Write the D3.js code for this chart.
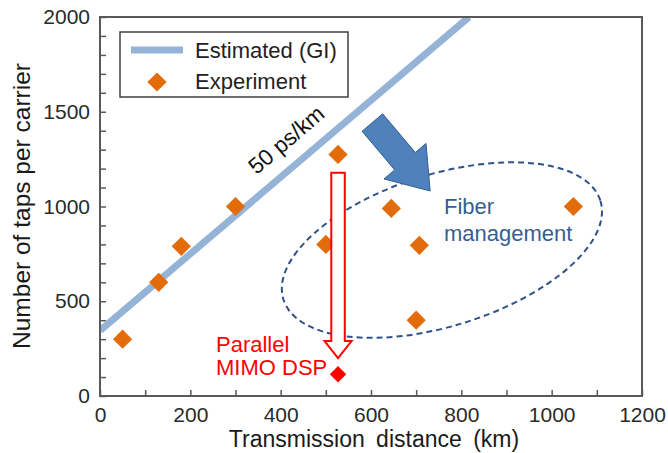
<!DOCTYPE html>
<html>
<head>
<meta charset="utf-8">
<script src="https://cdn.jsdelivr.net/npm/d3@7"></script>
<style>
  html, body { margin: 0; padding: 0; background: #fff; }
  svg { display: block; font-family: "Liberation Sans", Arial, sans-serif; }
</style>
</head>
<body>
<svg id="chart" width="668" height="453"></svg>
<script>
// Measured tap counts (distance km, taps per carrier)
const experimentDistance = [50, 130, 180, 300, 527, 500, 645, 707, 700, 1048];
const experimentTaps     = [300, 600, 790, 1000, 1275, 800, 990, 795, 400, 1000];

// Estimated tap count for GI fibre (50 ps/km), straight line end points
const estimatedDistance = [0, 817];
const estimatedTaps     = [345, 2000];

// Parallel MIMO DSP result
const parallelDistance = [527];
const parallelTaps     = [115];

// Axis ticks
const xTicks = d3.range(0, 1201, 100);
const xLabels = [0, 200, 400, 600, 800, 1000, 1200];
const yTicks = d3.range(0, 2001, 100);
const yLabels = [0, 500, 1000, 1500, 2000];

const svg = d3.select("#chart");
const x = d3.scaleLinear().domain([0, 1200]).range([100, 642]);
const y = d3.scaleLinear().domain([0, 2000]).range([396, 17]);

const frameColor = "#595959";
const orange = "#E36C0A";

svg.append("clipPath").attr("id", "plot-clip")
  .append("rect").attr("x", x(0)).attr("y", y(2000))
  .attr("width", x(1200) - x(0)).attr("height", y(0) - y(2000));

// Axes with inward ticks
const xAxis = d3.axisBottom(x).tickValues(xTicks).tickSizeInner(-6).tickSizeOuter(0).tickPadding(11)
  .tickFormat(d => xLabels.includes(d) ? d : "");
const yAxis = d3.axisLeft(y).tickValues(yTicks).tickSizeInner(-6).tickSizeOuter(0).tickPadding(10)
  .tickFormat(d => yLabels.includes(d) ? d : "");

const gx = svg.append("g").attr("transform", `translate(0,${y(0)})`).call(xAxis);
const gy = svg.append("g").attr("transform", `translate(${x(0)},0)`).call(yAxis);
[gx, gy].forEach(g => {
  g.select(".domain").remove();
  g.selectAll(".tick line").attr("stroke", frameColor).attr("stroke-width", 1.5);
  g.selectAll(".tick text").attr("fill", "#2a2a2a").style("font-size", "21px")
    .style("font-family", "'Liberation Sans', Arial, sans-serif");
});

// Estimated line
const plot = svg.append("g").attr("clip-path", "url(#plot-clip)");
const estPts = estimatedDistance.map((d, i) => [x(d), y(estimatedTaps[i])]);
plot.append("path")
  .attr("d", d3.line()(estPts))
  .attr("stroke", "#95B3D7").attr("stroke-width", 7).attr("fill", "none");

// Slope label along the line
const ang = Math.atan2(estPts[1][1] - estPts[0][1], estPts[1][0] - estPts[0][0]);
const slope = (estimatedTaps[1] - estimatedTaps[0]) / (estimatedDistance[1] - estimatedDistance[0]);
const labelDist = 448;
const lp = [x(labelDist), y(estimatedTaps[0] + slope * labelDist)];
const off = 17;
const lx = lp[0] + Math.sin(ang) * off, ly = lp[1] - Math.cos(ang) * off;
svg.append("text")
  .attr("transform", `translate(${lx},${ly}) rotate(${ang * 180 / Math.PI})`)
  .attr("text-anchor", "middle").style("font-size", "22.5px").attr("fill", "#111")
  .text("50 ps/km");

// Fibre-management group outline
const ellipseCenter = [757, 770];
svg.append("ellipse")
  .attr("transform", `translate(${x(ellipseCenter[0])},${y(ellipseCenter[1])}) rotate(-17.3)`)
  .attr("rx", 166).attr("ry", 76)
  .attr("fill", "none").attr("stroke", "#2F5288").attr("stroke-width", 2)
  .attr("stroke-dasharray", "6,4");

// Experiment diamonds
const diamond = d3.symbol().type(d3.symbolSquare).size(185);
svg.append("g").selectAll("path")
  .data(experimentDistance.map((d, i) => [d, experimentTaps[i]]))
  .join("path")
  .attr("d", diamond)
  .attr("transform", d => `translate(${x(d[0])},${y(d[1])}) rotate(45)`)
  .attr("fill", orange);

// Block arrow helper: tail/tip in pixels
function blockArrow(t, h, shaftW, headW, headL) {
  const dx = h[0] - t[0], dy = h[1] - t[1];
  const L = Math.hypot(dx, dy);
  const ux = dx / L, uy = dy / L, nx = -uy, ny = ux;
  const b = [h[0] - ux * headL, h[1] - uy * headL];
  const p = (c, s) => [c[0] + nx * s, c[1] + ny * s];
  return [p(t, shaftW / 2), p(b, shaftW / 2), p(b, headW / 2), h,
          p(b, -headW / 2), p(b, -shaftW / 2), p(t, -shaftW / 2)];
}

// Blue arrow pointing into the fibre-management group
const blueTail = [603, 1443], blueTip = [731, 1082];
svg.append("polygon")
  .attr("points", blockArrow([x(blueTail[0]), y(blueTail[1])], [x(blueTip[0]), y(blueTip[1])], 27, 55, 39).join(" "))
  .attr("fill", "#4F81BD").attr("stroke", "#385D8A").attr("stroke-width", 1);

// Hollow red arrow down to the parallel MIMO DSP result
const redTop = 1178, redTip = 200;
svg.append("polygon")
  .attr("points", blockArrow([x(parallelDistance[0]), y(redTop)], [x(parallelDistance[0]), y(redTip)], 13.5, 27, 17).join(" "))
  .attr("fill", "#fff").attr("stroke", "#FF0000").attr("stroke-width", 2);

svg.append("g").selectAll("path")
  .data(parallelDistance.map((d, i) => [d, parallelTaps[i]]))
  .join("path")
  .attr("d", d3.symbol().type(d3.symbolSquare).size(135))
  .attr("transform", d => `translate(${x(d[0])},${y(d[1])}) rotate(45)`)
  .attr("fill", "#FF0000");

// Annotations
const red = svg.append("text").attr("fill", "#FF0000").style("font-size", "22px");
red.append("tspan").attr("x", 216).attr("y", 352).text("Parallel");
red.append("tspan").attr("x", 216).attr("y", 375).text("MIMO DSP");

const fib = svg.append("text").attr("fill", "#365F91").style("font-size", "22px");
fib.append("tspan").attr("x", 444).attr("y", 214).text("Fiber");
fib.append("tspan").attr("x", 444).attr("y", 241).text("management");

// Legend
const lg = svg.append("g");
lg.append("rect").attr("x", 120).attr("y", 32).attr("width", 228).attr("height", 65)
  .attr("fill", "#fff").attr("stroke", "#404040").attr("stroke-width", 1.5);
lg.append("line").attr("x1", 131).attr("x2", 183).attr("y1", 50).attr("y2", 50)
  .attr("stroke", "#95B3D7").attr("stroke-width", 7);
lg.append("path").attr("d", diamond).attr("transform", "translate(157,82) rotate(45)").attr("fill", orange);
lg.append("text").attr("x", 195).attr("y", 58).style("font-size", "22px").attr("fill", "#222").text("Estimated (GI)");
lg.append("text").attr("x", 195).attr("y", 89).style("font-size", "22px").attr("fill", "#222").text("Experiment");

// Axis titles
svg.append("text").attr("x", 374).attr("y", 447).attr("text-anchor", "middle")
  .style("font-size", "23px").style("word-spacing", "5px").attr("fill", "#1a1a1a")
  .text("Transmission distance (km)");
svg.append("text").attr("transform", "translate(30,206) rotate(-90)").attr("text-anchor", "middle")
  .style("font-size", "24.5px").attr("fill", "#1a1a1a")
  .text("Number of taps per carrier");

// Plot frame
svg.append("rect").attr("x", x(0)).attr("y", y(2000))
  .attr("width", x(1200) - x(0)).attr("height", y(0) - y(2000))
  .attr("fill", "none").attr("stroke", frameColor).attr("stroke-width", 2);
</script>
</body>
</html>
